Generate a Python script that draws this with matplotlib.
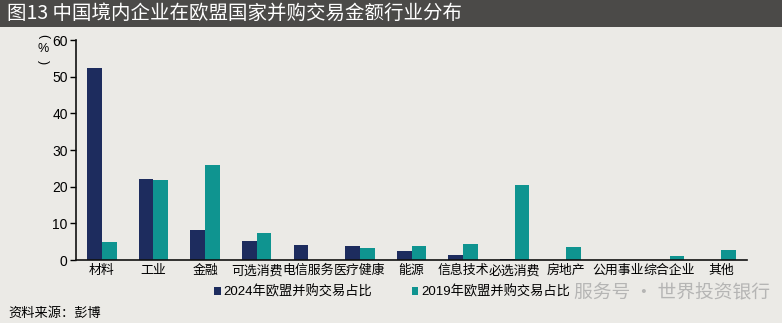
import numpy as np
import matplotlib.pyplot as plt
from matplotlib.patches import Rectangle

plt.rcParams['font.family'] = ['Liberation Sans', 'Noto Sans CJK SC', 'DejaVu Sans']

categories = ["材料", "工业", "金融", "可选消费", "电信服务", "医疗健康", "能源",
              "信息技术", "必选消费", "房地产", "公用事业", "综合企业", "其他"]
share_2024 = [52.3, 22.1, 8.1, 5.2, 4.0, 3.7, 2.4, 1.4, 0.3, 0.0, 0.0, 0.0, 0.0]
share_2019 = [5.0, 21.7, 25.8, 7.4, 0.1, 3.3, 3.7, 4.4, 20.5, 3.5, 0.0, 1.0, 2.7]
label_2024 = "2024年欧盟并购交易占比"
label_2019 = "2019年欧盟并购交易占比"

navy = "#1d2c5e"
teal = "#0f9490"
bg = "#ebeae6"
cjk = ['Noto Sans CJK SC', 'DejaVu Sans']

fig = plt.figure(figsize=(7.82, 3.23), dpi=100, facecolor=bg)

# title bar
fig.patches.append(Rectangle((0, 1 - 27 / 323), 1, 27 / 323, transform=fig.transFigure,
                             facecolor="#4b4a48", edgecolor="none", zorder=0))
fig.text(7 / 782, 1 - 13 / 323, "图13 中国境内企业在欧盟国家并购交易金额行业分布",
         color="white", fontsize=14, va="center", ha="left", family=cjk)

ax = fig.add_axes([76 / 782, 1 - 260 / 323, (747 - 76) / 782, 220 / 323])
ax.set_facecolor(bg)

x = np.arange(len(categories))
w = 0.285
ax.bar(x - w / 2, share_2024, w, color=navy, label=label_2024)
ax.bar(x + w / 2, share_2019, w, color=teal, label=label_2019)

ax.set_xlim(-0.5, len(categories) - 0.5)
ax.set_ylim(0, 60)
ax.set_yticks(range(0, 61, 10))
ax.set_xticks(x)
ax.set_xticklabels(categories, family=cjk, fontsize=9.3)
ax.tick_params(axis='x', length=0, pad=3)
ax.tick_params(axis='y', length=4, width=1, labelsize=10, pad=2, direction='out')
for s in ["top", "right"]:
    ax.spines[s].set_visible(False)
for s in ["left", "bottom"]:
    ax.spines[s].set_linewidth(1.2)
    ax.spines[s].set_color("#111111")

# vertical unit label
fig.text(43 / 782, 1 - 36 / 323, "(", fontsize=9, ha="center", va="center", rotation=-90)
fig.text(43 / 782, 1 - 49 / 323, "%", fontsize=9, ha="center", va="center")
fig.text(43 / 782, 1 - 62 / 323, ")", fontsize=9, ha="center", va="center", rotation=-90)

fig.legend(loc="center", bbox_to_anchor=(392 / 782, 1 - 292 / 323), ncol=2,
           frameon=False, handlelength=0.5, handleheight=0.5,
           handletextpad=0.2, columnspacing=3.0,
           prop={'family': ['Liberation Sans', 'Noto Sans CJK SC'], 'size': 9.5})

fig.text(8 / 782, 1 - 313 / 323, "资料来源：彭博", fontsize=9.5, ha="left", va="center",
         family=cjk)

# watermark
fig.text(574 / 782, 1 - 293 / 323, "服务号 · 世界投资银行", fontsize=13.5, color="#a8a8a8",
         alpha=0.8, ha="left", va="center", family=cjk)

fig.savefig("out.png", dpi=100, facecolor=bg)
